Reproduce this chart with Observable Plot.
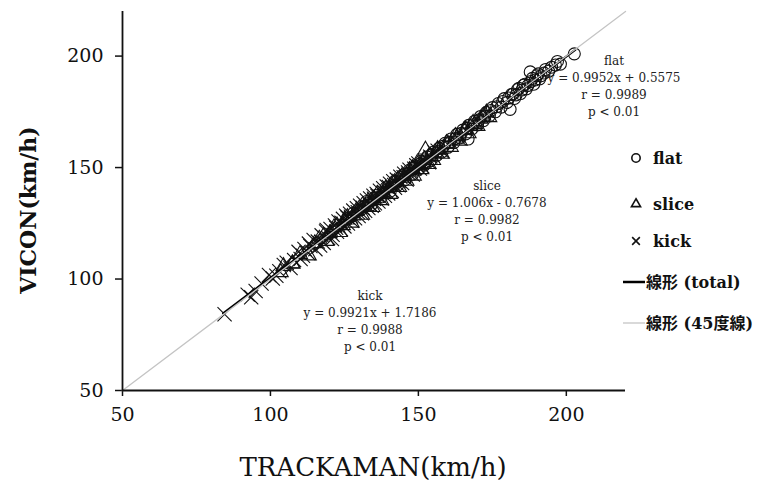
<!DOCTYPE html>
<html>
<head>
<meta charset="utf-8">
<script src="https://cdn.jsdelivr.net/npm/d3@7"></script>
<script src="https://cdn.jsdelivr.net/npm/@observablehq/plot@0.6"></script>
<style>
  body { margin: 0; background: #fff; }
  #chart { position: relative; width: 773px; height: 485px; }
</style>
</head>
<body>
<div id="chart"></div>
<script>
// ---- data ----
const kickX = [84.5, 92.3, 93.5, 95.0, 99.5, 100.8, 103.0, 104.5, 106.8, 108.0, 109.5, 110.2, 111.5, 112.8, 113.5, 114.6, 115.2, 116.0, 117.3, 118.0, 118.8, 119.5, 120.3, 121.0, 121.8, 122.5, 123.0, 123.8, 124.5, 125.0, 125.6, 126.2, 126.9, 127.5, 128.0, 128.6, 129.2, 129.8, 130.3, 130.9, 131.5, 132.0, 132.6, 133.1, 133.7, 134.2, 134.8, 135.3, 135.9, 136.5, 137.0, 137.6, 138.1, 138.7, 139.3, 139.8, 140.4, 141.0, 141.5, 142.1, 142.7, 143.3, 143.9, 144.5, 145.2, 146.0, 147.0, 148.1, 149.3, 150.5, 152.0, 153.6, 155.5, 158.0,
  111.0, 113.0, 116.8, 119.0, 120.8, 122.2, 124.0, 126.0, 127.2, 129.5, 131.2, 133.4, 135.0, 136.2, 138.4, 140.0, 141.8, 143.6, 145.0, 146.5, 148.6, 150.0, 151.3, 154.0, 156.5, 97.0, 102.0, 105.5];
const kickY = [84.2, 93.0, 91.8, 94.6, 101.8, 100.2, 103.5, 106.3, 104.9, 108.5, 112.2, 109.0, 113.5, 111.6, 114.8, 117.5, 113.4, 116.8, 119.6, 116.2, 121.3, 118.4, 122.5, 119.8, 124.0, 121.2, 125.8, 122.4, 127.0, 123.6, 128.4, 124.9, 129.3, 126.1, 130.7, 127.2, 131.8, 128.3, 132.9, 129.5, 134.0, 130.6, 135.2, 131.8, 136.1, 132.9, 137.4, 134.0, 138.2, 134.8, 139.6, 136.1, 140.7, 137.3, 141.5, 138.4, 142.8, 139.6, 143.9, 140.9, 144.6, 142.0, 145.9, 143.1, 147.2, 144.6, 149.0, 146.9, 151.0, 149.6, 153.1, 152.4, 156.8, 157.3,
  110.4, 115.9, 115.0, 122.0, 117.9, 123.0, 125.2, 127.6, 128.0, 130.0, 132.0, 133.6, 136.0, 137.3, 139.0, 141.3, 142.2, 144.0, 145.7, 147.8, 149.5, 151.8, 150.6, 154.9, 157.6, 98.0, 101.5, 107.3];

const sliceX = [103.5, 104.4, 107.4, 107.5, 113.0, 116.5, 119.0, 121.5, 123.5, 125.0, 127.5, 129.0, 131.0, 133.0, 134.5, 136.0, 137.5, 139.0, 140.5, 142.0, 143.5, 144.5, 146.0, 147.0, 148.5, 149.5, 151.0, 152.0, 152.4, 153.5, 155.0, 156.5, 158.0, 159.5, 161.0, 162.5, 164.0, 165.5, 167.0, 168.5, 170.0, 172.0, 174.0,
  110.0, 115.0, 118.0, 120.0, 122.5, 124.5, 126.0, 128.0, 130.0, 132.0, 135.0, 138.0, 141.0, 145.0, 148.0, 150.5, 154.0, 157.0, 160.0, 163.0, 166.0, 169.0, 171.0, 173.0];
const sliceY = [103.0, 105.8, 107.0, 106.8, 110.5, 118.0, 117.0, 123.2, 121.0, 126.5, 125.2, 130.6, 128.7, 134.8, 132.2, 137.9, 135.3, 140.6, 138.1, 143.5, 141.2, 146.2, 144.0, 148.8, 146.3, 151.8, 149.2, 153.6, 158.0, 151.5, 153.3, 158.2, 156.1, 161.0, 159.2, 164.1, 162.0, 166.8, 165.3, 170.0, 168.6, 173.2, 172.5,
  111.2, 116.0, 119.4, 120.5, 124.0, 124.1, 127.8, 128.4, 131.6, 132.3, 136.1, 138.6, 142.2, 145.3, 149.6, 151.0, 155.1, 157.9, 160.6, 163.4, 167.1, 169.4, 171.8, 174.6];

const flatX = [128.0, 130.5, 132.5, 134.0, 136.0, 137.5, 139.0, 140.5, 142.0, 143.0, 144.5, 145.5, 147.0, 148.0, 149.0, 150.0, 151.0, 152.0, 153.0, 154.0, 155.0, 156.0, 157.0, 158.0, 159.0, 160.0, 161.0, 162.0, 163.0, 164.0, 165.0, 166.0, 166.8, 167.0, 168.0, 169.0, 170.0, 171.0, 172.0, 173.0, 174.0, 175.0, 176.0, 177.0, 178.0, 179.0, 180.0, 181.0, 181.5, 182.5, 183.5, 184.5, 185.5, 186.5, 187.8, 188.0, 189.0, 190.0, 191.0, 192.5, 194.0, 196.3, 198.0, 202.7,
  126.0, 129.5, 131.5, 133.0, 135.0, 138.0, 141.0, 144.0, 146.5, 148.5, 150.5, 152.5, 154.5, 156.5, 158.5, 160.5, 162.5, 164.5, 166.5, 168.5, 170.5, 172.5, 174.5, 176.5, 178.5, 180.5, 182.0, 183.0, 184.0, 185.0, 186.0, 187.0, 188.5, 189.5, 190.5, 191.5, 193.0, 195.0, 197.0];
const flatY = [129.5, 131.0, 134.8, 133.2, 137.6, 136.8, 140.9, 139.4, 143.8, 142.1, 146.4, 144.6, 148.9, 147.0, 150.8, 149.2, 152.9, 151.1, 154.8, 153.0, 156.9, 155.2, 158.7, 157.0, 160.9, 159.1, 162.8, 161.2, 164.9, 163.3, 166.8, 165.1, 162.8, 168.9, 167.2, 170.8, 169.1, 172.9, 171.0, 174.8, 173.2, 176.9, 175.0, 178.7, 177.1, 180.9, 179.2, 176.1, 182.8, 181.0, 185.0, 183.2, 186.9, 185.3, 192.9, 188.6, 187.4, 191.2, 189.8, 192.4, 193.2, 196.0, 196.4, 201.0,
  127.0, 130.8, 132.5, 133.9, 136.2, 138.9, 141.7, 145.5, 147.4, 149.8, 151.6, 152.6, 155.8, 157.2, 159.6, 161.3, 163.0, 165.4, 167.6, 169.2, 171.4, 173.0, 175.6, 177.3, 179.6, 181.2, 183.0, 182.6, 185.6, 184.8, 187.4, 186.8, 190.0, 189.3, 192.0, 191.2, 194.0, 195.0, 197.6];

const totalX = [84, 203];
const totalY = [84.6, 202.8];
const refX = [50, 220];
const refY = [50, 220];

const xTicks = [50, 100, 150, 200];
const yTicks = [50, 100, 150, 200];

const xLabel = "TRACKAMAN(km/h)";
const yLabel = "VICON(km/h)";

const flatNote = ["flat", "y = 0.9952x + 0.5575", "r = 0.9989", "p < 0.01"];
const sliceNote = ["slice", "y = 1.006x - 0.7678", "r = 0.9982", "p < 0.01"];
const kickNote = ["kick", "y = 0.9921x + 1.7186", "r = 0.9988", "p < 0.01"];

const legendLabels = ["flat", "slice", "kick", "線形 (total)", "線形 (45度線)"];

// ---- build tables ----
const toPts = (xs, ys) => xs.map((x, i) => ({x, y: ys[i]}));
const kick = toPts(kickX, kickY);
const slice = toPts(sliceX, sliceY);
const flat = toPts(flatX, flatY);
const total = toPts(totalX, totalY);
const ref = toPts(refX, refY);

const serif = "'DejaVu Serif', 'Noto Sans CJK JP', serif";

const plot = Plot.plot({
  width: 773,
  height: 485,
  marginLeft: 122,
  marginRight: 148,
  marginTop: 11,
  marginBottom: 95,
  style: {fontFamily: serif, background: "#fff", color: "#111", overflow: "visible"},
  x: {domain: [50, 220], ticks: xTicks},
  y: {domain: [50, 220], ticks: yTicks},
  marks: [
    Plot.axisX({ticks: xTicks, tickSize: 6, tickPadding: 11, fontSize: 19, strokeWidth: 1.5, label: null}),
    Plot.axisY({ticks: yTicks, tickSize: 7, tickPadding: 12, fontSize: 19, strokeWidth: 1.5, label: null}),
    Plot.dot(flat, {x: "x", y: "y", symbol: "circle", r: 6, stroke: "#111", strokeWidth: 1.1, fill: "none"}),
    Plot.dot(slice, {x: "x", y: "y", symbol: "triangle", r: 5.5, stroke: "#111", strokeWidth: 1.1, fill: "none"}),
    Plot.dot(kick, {x: "x", y: "y", symbol: "times", r: 6.5, stroke: "#111", strokeWidth: 1.1}),
    Plot.line(total, {x: "x", y: "y", stroke: "#000", strokeWidth: 2.2}),
    Plot.line(ref, {x: "x", y: "y", stroke: "#c4c4c4", strokeWidth: 1.3}),
    Plot.ruleY([50], {stroke: "#111", strokeWidth: 1.8}),
    Plot.ruleX([50], {stroke: "#111", strokeWidth: 1.8})
  ]
});

document.getElementById("chart").appendChild(plot);

const svg = d3.select(plot);

// axis titles
svg.append("text")
  .attr("x", 373).attr("y", 476)
  .attr("text-anchor", "middle")
  .attr("font-family", serif).attr("font-size", 26)
  .attr("fill", "#111")
  .text(xLabel);
svg.append("text")
  .attr("transform", "translate(36,210) rotate(-90)")
  .attr("text-anchor", "middle")
  .attr("font-family", serif).attr("font-size", 22).attr("font-weight", "bold")
  .attr("fill", "#111")
  .text(yLabel);

// annotations
function note(lines, cx, y0) {
  const g = svg.append("g").attr("font-family", serif).attr("font-size", 12).attr("fill", "#222").attr("text-anchor", "middle");
  lines.forEach((t, i) => g.append("text").attr("x", cx).attr("y", y0 + i * 16.8).attr("dy", "0.35em").text(t));
}
note(flatNote, 614, 61);
note(sliceNote, 487, 186);
note(kickNote, 370, 296);

// legend
const lg = svg.append("g").attr("font-family", serif).attr("font-size", 16).attr("font-weight", "bold").attr("fill", "#111").attr("text-anchor", "start");
const rows = [158, 204, 241, 282, 323];
const sym = [d3.symbolCircle, d3.symbolTriangle, d3.symbolTimes];
sym.forEach((s, i) => {
  lg.append("path")
    .attr("d", d3.symbol(s, i === 0 ? 55 : i === 1 ? 36 : 40)())
    .attr("transform", `translate(636,${rows[i]})`)
    .attr("fill", "none").attr("stroke", "#111").attr("stroke-width", 1.6);
  lg.append("text").attr("x", 653).attr("y", rows[i]).attr("dy", "0.35em").text(legendLabels[i]);
});
lg.append("line").attr("x1", 623).attr("x2", 645).attr("y1", rows[3]).attr("y2", rows[3]).attr("stroke", "#000").attr("stroke-width", 2.5);
lg.append("text").attr("x", 646).attr("y", rows[3]).attr("dy", "0.35em").text(legendLabels[3]);
lg.append("line").attr("x1", 623).attr("x2", 645).attr("y1", rows[4]).attr("y2", rows[4]).attr("stroke", "#c4c4c4").attr("stroke-width", 1.3);
lg.append("text").attr("x", 646).attr("y", rows[4]).attr("dy", "0.35em").text(legendLabels[4]);
</script>
</body>
</html>
